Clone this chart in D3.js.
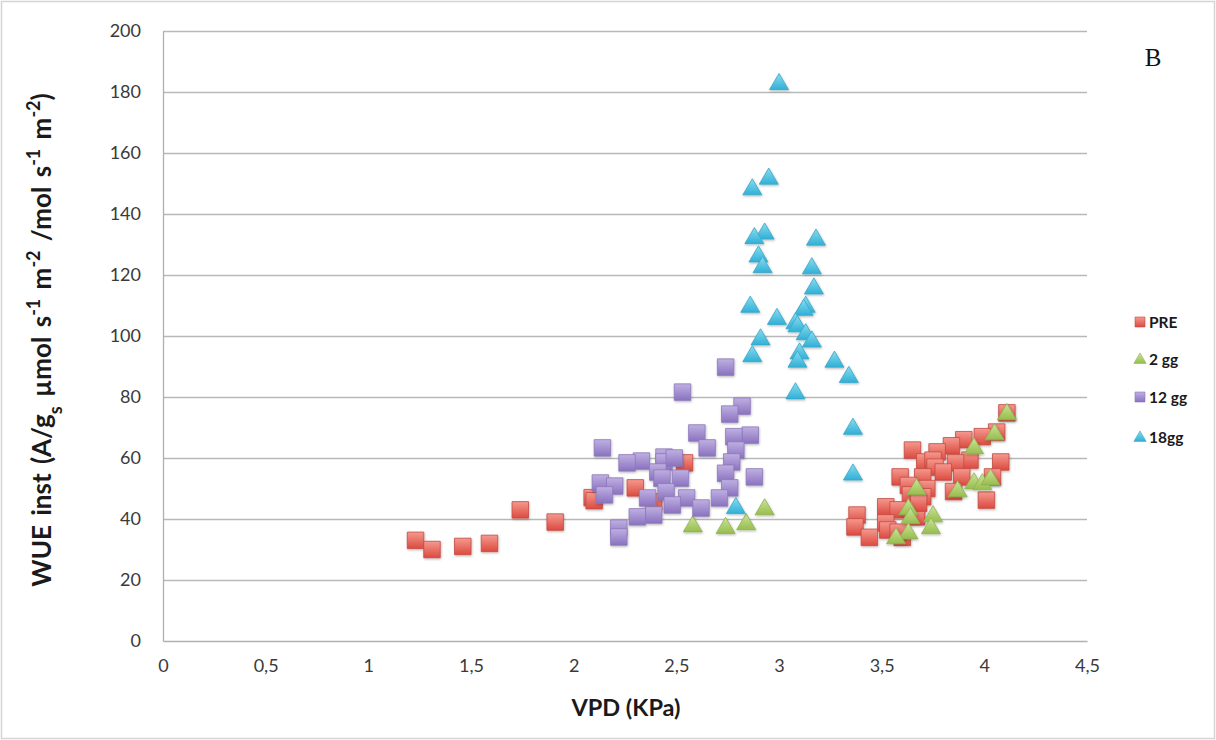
<!DOCTYPE html>
<html>
<head>
<meta charset="utf-8">
<script src="https://cdn.jsdelivr.net/npm/d3@7"></script>
<style>
  html, body { margin: 0; padding: 0; background: #fff; }
  svg { display: block; }
</style>
</head>
<body>
<svg id="chart" width="1216" height="740"></svg>
<script>
// VPD (kPa) vs instantaneous WUE, four sampling times
const preVPD = [1.23, 1.31, 1.46, 1.59, 1.74, 1.91, 2.09, 2.10, 2.30, 2.39, 2.54,
  4.11, 4.06, 3.99, 3.90, 3.84, 3.65, 3.77, 4.08, 3.93, 3.71, 3.75, 3.76, 3.86, 3.80,
  3.89, 3.59, 3.70, 4.04, 3.63, 3.72, 3.85, 3.70, 4.01, 3.64, 3.52, 3.58, 3.67, 3.38,
  3.37, 3.52, 3.53, 3.44, 3.60, 3.58, 3.67, 3.68];
const preWUE = [33, 30, 31, 32, 43, 39, 47, 46, 50.2, 45.6, 58.4,
  74.8, 68.5, 67, 66, 64, 62.6, 62, 58.7, 59.3, 58.7, 59.3, 57, 58.4, 55.4,
  53.8, 53.8, 53.8, 53.8, 51, 50, 49, 47.3, 46.2, 47.9, 44, 43, 42.3, 41.3,
  37.4, 38.7, 36.4, 34, 34, 35.7, 40.7, 45.2];

const gg2VPD = [2.58, 2.74, 2.84, 2.93,
  4.11, 4.05, 3.95, 3.67, 3.87, 3.95, 3.99, 4.03, 3.63, 3.64, 3.75, 3.74, 3.63, 3.57];
const gg2WUE = [38, 37.5, 38.7, 43.6,
  74.8, 68.2, 63.6, 50.2, 49.5, 52.1, 51.8, 53.4, 43.6, 40.7, 41.3, 37.4, 35.7, 34.1];

const gg12VPD = [2.74, 2.53, 2.82, 2.76, 2.60, 2.86, 2.78, 2.65, 2.14, 2.79, 2.77,
  2.44, 2.44, 2.49, 2.33, 2.26, 2.41, 2.43, 2.52, 2.74, 2.13, 2.20, 2.15, 2.45,
  2.76, 2.88, 2.36, 2.55, 2.71, 2.48, 2.62, 2.39, 2.31, 2.22, 2.22];
const gg12WUE = [89.8, 81.6, 77, 74.4, 68.2, 67.5, 67, 63.3, 63.3, 62.6, 58.7,
  60.3, 58.7, 60, 59, 58.4, 55.4, 53.4, 53.4, 55, 51.8, 50.8, 47.9, 48.9,
  50.2, 53.8, 46.9, 46.9, 46.9, 44.6, 43.6, 41.3, 40.7, 37, 34.1];

const gg18VPD = [3.00, 2.95, 2.87, 2.93, 2.88, 3.18, 2.90, 2.92, 3.16, 3.17, 3.13,
  3.12, 2.86, 2.99, 3.08, 3.09, 3.13, 3.16, 2.91, 3.10, 3.09, 2.87, 3.27, 3.34,
  3.08, 3.36, 3.36, 2.79];
const gg18WUE = [183, 152, 148.5, 134, 132.5, 132, 126.5, 123, 122.6, 116, 110,
  109, 110, 106, 104.6, 103.6, 101, 98.6, 99.3, 94.7, 92, 93.8, 92, 87,
  81.6, 70, 55, 44];

const xTicks = [0, 0.5, 1, 1.5, 2, 2.5, 3, 3.5, 4, 4.5];
const yTicks = [0, 20, 40, 60, 80, 100, 120, 140, 160, 180, 200];
const seriesNames = ["PRE", "2 gg", "12 gg", "18gg"];

const series = [
  { name: seriesNames[0], xs: preVPD, ys: preWUE, shape: "square", id: "red",
    c0: "#f5998f", c1: "#dc4a3f", edge: "#c24a42" },
  { name: seriesNames[1], xs: gg2VPD, ys: gg2WUE, shape: "triangle", id: "green",
    c0: "#cbe49a", c1: "#97bd4c", edge: "#8fb052" },
  { name: seriesNames[2], xs: gg12VPD, ys: gg12WUE, shape: "square", id: "purple",
    c0: "#bfb0e2", c1: "#8a72bf", edge: "#8b77b8" },
  { name: seriesNames[3], xs: gg18VPD, ys: gg18WUE, shape: "triangle", id: "cyan",
    c0: "#8adcf0", c1: "#2fb0d6", edge: "#3aa6c6" }
];

const svg = d3.select("#chart");
const font = "Lato, 'Open Sans', 'DejaVu Sans', sans-serif";

// outer frame
svg.append("rect").attr("x", 1.5).attr("y", 1.5).attr("width", 1213).attr("height", 737)
  .attr("fill", "#fff").attr("stroke", "#d4d4d4").attr("stroke-width", 1.5);

const x = d3.scaleLinear().domain([0, 4.5]).range([163, 1087]);
const y = d3.scaleLinear().domain([0, 200]).range([641, 31]);

// gradients and soft shadow for markers
const defs = svg.append("defs");
series.forEach(s => {
  const g = defs.append("linearGradient").attr("id", "grad-" + s.id)
    .attr("x1", 0).attr("y1", 0).attr("x2", 0).attr("y2", 1);
  g.append("stop").attr("offset", "0%").attr("stop-color", s.c0);
  g.append("stop").attr("offset", "100%").attr("stop-color", s.c1);
});
const shadow = defs.append("filter").attr("id", "shadow")
  .attr("x", "-30%").attr("y", "-30%").attr("width", "160%").attr("height", "160%");
shadow.append("feDropShadow").attr("dx", 0.6).attr("dy", 1.2).attr("stdDeviation", 1)
  .attr("flood-color", "#000").attr("flood-opacity", 0.28);

// horizontal gridlines
svg.append("g").selectAll("line").data(yTicks.filter(t => t > 0)).join("line")
  .attr("x1", x(0)).attr("x2", x(4.5))
  .attr("y1", d => Math.round(y(d)) + 0.5).attr("y2", d => Math.round(y(d)) + 0.5)
  .attr("stroke", "#b8b8b8").attr("stroke-width", 1.3);

// y axis
const yAxis = svg.append("g").attr("transform", `translate(${x(0)},0)`)
  .call(d3.axisLeft(y).tickValues(yTicks).tickSize(0).tickPadding(22)
    .tickFormat(d3.format("d")));
yAxis.select(".domain").attr("stroke", "#b0b0b0").attr("stroke-width", 1.3);
yAxis.selectAll("text").attr("font-family", font).attr("font-size", 18)
  .attr("fill", "#3a3a3a");

// x axis
const xAxis = svg.append("g").attr("transform", `translate(0,${y(0)})`)
  .call(d3.axisBottom(x).tickValues(xTicks).tickSize(0).tickPadding(18)
    .tickFormat(d => String(d).replace(".", ",")));
xAxis.select(".domain").attr("stroke", "#b0b0b0").attr("stroke-width", 1.3);
xAxis.selectAll("text").attr("font-family", font).attr("font-size", 18)
  .attr("fill", "#3a3a3a");

// axis titles
svg.append("text").attr("x", 626).attr("y", 716).attr("text-anchor", "middle")
  .attr("font-family", font).attr("font-weight", "bold").attr("font-size", 23.5)
  .attr("fill", "#1a1a1a").text("VPD (KPa)");

const yt = svg.append("text")
  .attr("transform", "translate(51,340) rotate(-90)")
  .attr("text-anchor", "middle").attr("font-family", font)
  .attr("font-weight", "bold").attr("font-size", 26).attr("word-spacing", 3)
  .attr("fill", "#1a1a1a");
const parts = [
  ["WUE inst (A/g", 0], ["s", -1], [" µmol s", 0], ["-1", 1], [" m", 0], ["-2", 1],
  [" /mol s", 0], ["-1", 1], [" m", 0], ["-2", 1], [")", 0]
];
parts.forEach(([t, p]) => {
  const ts = yt.append("tspan").text(t);
  if (p === 1) ts.attr("font-size", 18).attr("baseline-shift", "super");
  if (p === -1) ts.attr("font-size", 18).attr("baseline-shift", "sub");
});

// panel letter
svg.append("text").attr("x", 1153).attr("y", 66).attr("text-anchor", "middle")
  .attr("font-family", "'Liberation Serif', 'DejaVu Serif', serif")
  .attr("font-size", 25).attr("fill", "#111").text("B");

// marker paths
function markerPath(shape, size) {
  if (shape === "square") {
    const h = size / 2;
    return `M${-h},${-h}h${size}v${size}h${-size}Z`;
  }
  const w = size * 0.56, ht = size * 0.95;
  return `M0,${-ht * 0.58}L${w},${ht * 0.42}L${-w},${ht * 0.42}Z`;
}

// data points
series.forEach(s => {
  const pts = s.xs.map((v, i) => ({ vx: v, vy: s.ys[i] }));
  svg.append("g").attr("filter", "url(#shadow)")
    .selectAll("path").data(pts).join("path")
    .attr("transform", d => `translate(${x(d.vx)},${y(d.vy)})`)
    .attr("d", markerPath(s.shape, s.shape === "square" ? 16.5 : 17))
    .attr("fill", `url(#grad-${s.id})`)
    .attr("stroke", s.edge).attr("stroke-width", 0.8).attr("stroke-linejoin", "round");
});

// legend
const legendY = [322, 359, 397, 437];
const lg = svg.append("g");
series.forEach((s, i) => {
  lg.append("path")
    .attr("transform", `translate(1140,${legendY[i]})`)
    .attr("d", markerPath(s.shape, s.shape === "square" ? 10 : 11))
    .attr("fill", `url(#grad-${s.id})`).attr("stroke", s.edge).attr("stroke-width", 0.6);
  lg.append("text").attr("x", 1149).attr("y", legendY[i] + 5.5)
    .attr("font-family", font).attr("font-weight", "bold").attr("font-size", 15.5)
    .attr("fill", "#1a1a1a").text(s.name);
});
</script>
</body>
</html>
